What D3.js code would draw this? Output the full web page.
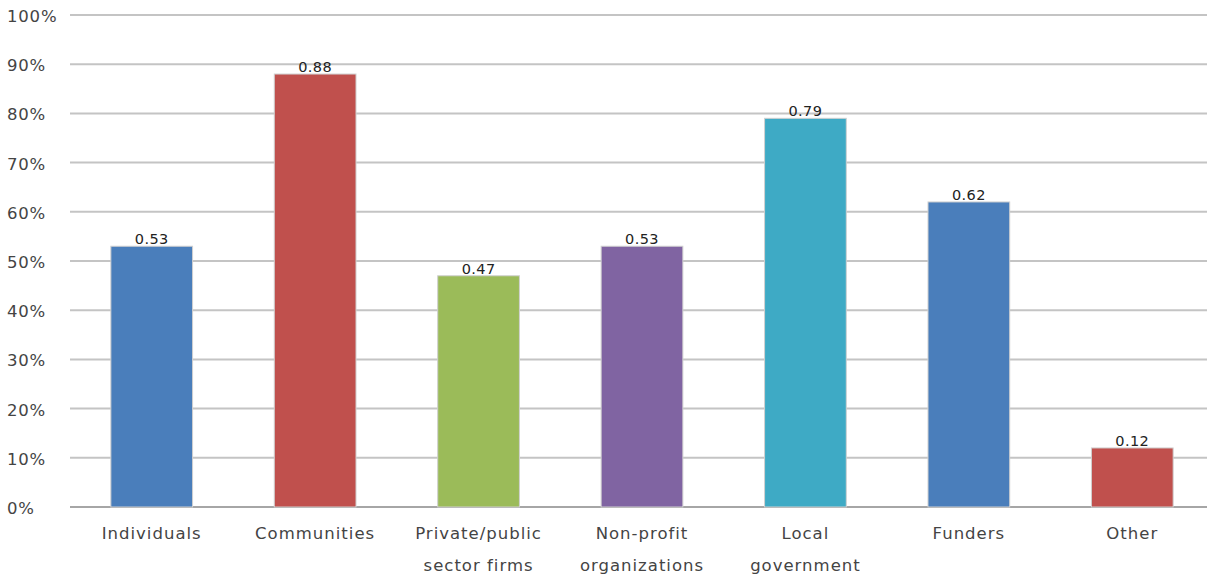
<!DOCTYPE html>
<html>
<head>
<meta charset="utf-8">
<script src="https://cdn.jsdelivr.net/npm/d3@7"></script>
<style>
  body { margin: 0; background: #fff; }
  text { font-family: "DejaVu Sans", Verdana, sans-serif; }
</style>
</head>
<body>
<script>
// Data
var categories = [["Individuals"], ["Communities"], ["Private/public", "sector firms"],
    ["Non-profit", "organizations"], ["Local", "government"], ["Funders"], ["Other"]];
var values = [0.53, 0.88, 0.47, 0.53, 0.79, 0.62, 0.12];
var barColors = ["#4a7ebb", "#c0504d", "#9bbb59", "#8064a2", "#3eaac5", "#4a7ebb", "#c0504d"];
var yTicks = [0, 0.1, 0.2, 0.3, 0.4, 0.5, 0.6, 0.7, 0.8, 0.9, 1.0];

var W = 1207, H = 577;

var svg = d3.select("body").append("svg")
    .attr("width", W)
    .attr("height", H);

var xScale = d3.scaleBand()
    .domain(d3.range(categories.length))
    .range([70, 1214])
    .paddingInner(0.5)
    .paddingOuter(0.25);

var yScale = d3.scaleLinear()
    .domain([0, 1])
    .range([507, 15]);

// Gridlines
svg.append("g").selectAll("line")
    .data(yTicks)
    .enter().append("line")
    .attr("x1", 70)
    .attr("x2", W)
    .attr("y1", function(d) { return yScale(d); })
    .attr("y2", function(d) { return yScale(d); })
    .attr("stroke", function(d) { return d === 0 ? "#a6a6a6" : "#c4c4c4"; })
    .attr("stroke-width", 2);

// Y tick labels, left aligned like the original
svg.append("g").selectAll("text")
    .data(yTicks)
    .enter().append("text")
    .attr("x", 7)
    .attr("y", function(d) { return yScale(d) + 7; })
    .attr("fill", "#444")
    .style("font-size", "16.5px")
    .style("letter-spacing", "0.8px")
    .text(function(d) { return d3.format(".0%")(d); });

// Bars
svg.append("g").selectAll("rect")
    .data(values)
    .enter().append("rect")
    .attr("x", function(d, i) { return xScale(i); })
    .attr("y", function(d) { return yScale(d); })
    .attr("width", xScale.bandwidth())
    .attr("height", function(d) { return yScale(0) - yScale(d); })
    .attr("fill", function(d, i) { return barColors[i]; })
    .attr("stroke", "#d0d0d0")
    .attr("stroke-width", 1);

// Value labels
svg.append("g").selectAll("text")
    .data(values)
    .enter().append("text")
    .attr("x", function(d, i) { return xScale(i) + xScale.bandwidth() / 2; })
    .attr("y", function(d) { return yScale(d) - 2; })
    .attr("text-anchor", "middle")
    .attr("fill", "#222")
    .style("font-size", "14.5px")
    .style("letter-spacing", "0.4px")
    .text(function(d) { return d; });

// Category labels
var cat = svg.append("g").selectAll("text")
    .data(categories)
    .enter().append("text")
    .attr("text-anchor", "middle")
    .attr("fill", "#444")
    .style("font-size", "16.5px")
    .style("letter-spacing", "1px");

cat.selectAll("tspan")
    .data(function(d, i) { return d.map(function(t) { return {t: t, i: i}; }); })
    .enter().append("tspan")
    .attr("x", function(d) { return xScale(d.i) + xScale.bandwidth() / 2; })
    .attr("y", function(d, j) { return 539 + j * 32; })
    .text(function(d) { return d.t; });
</script>
</body>
</html>
